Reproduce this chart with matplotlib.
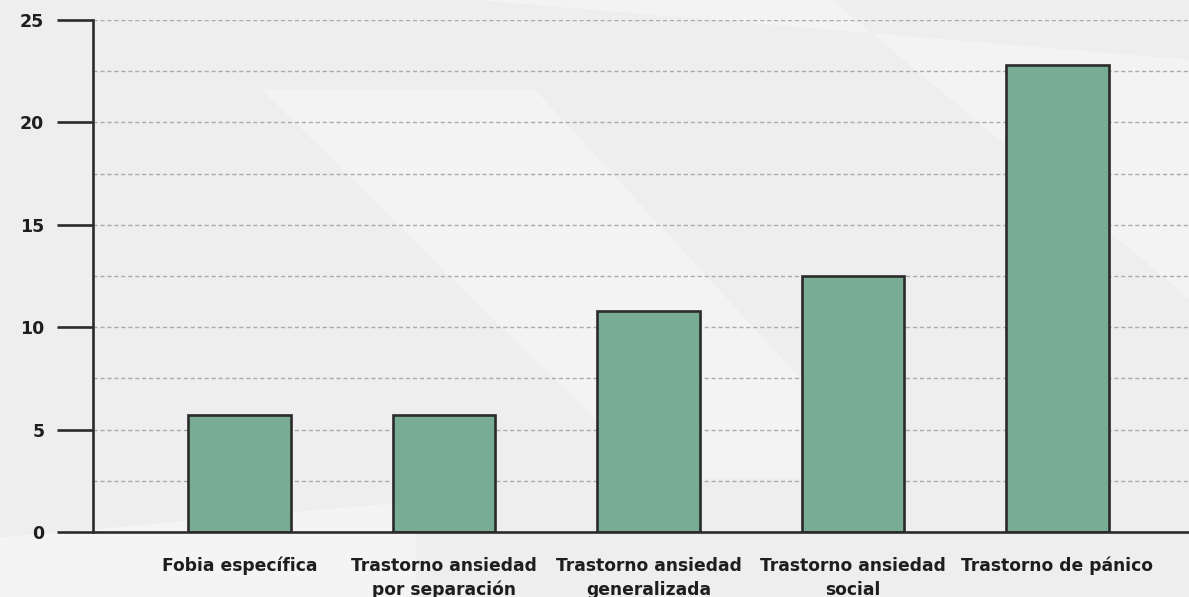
import numpy as np
import matplotlib.pyplot as plt
from matplotlib.patches import Polygon

categories = ["Fobia específica", "Trastorno ansiedad\npor separación",
              "Trastorno ansiedad\ngeneralizada", "Trastorno ansiedad\nsocial",
              "Trastorno de pánico"]
values = [5.7, 5.7, 10.8, 12.5, 22.8]
yticks = [0, 5, 10, 15, 20, 25]

bar_color = "#78ac95"
edge_color = "#2b2b2b"

fig = plt.figure(figsize=(11.89, 5.97), dpi=100)
fig.patch.set_facecolor("#eeeeee")

# faint light shapes in background
bg = fig.add_axes([0, 0, 1, 1], zorder=-1)
bg.set_xlim(0, 1)
bg.set_ylim(0, 1)
bg.axis("off")
bg.add_patch(Polygon([[0.22, 0.85], [0.55, 0.2], [0.75, 0.2], [0.45, 0.85]],
                     closed=True, color="white", alpha=0.3, lw=0))
bg.add_patch(Polygon([[0.4, 1.0], [0.7, 1.0], [1.0, 0.5], [1.0, 0.9]],
                     closed=True, color="white", alpha=0.3, lw=0))
bg.add_patch(Polygon([[0.0, 0.1], [0.35, 0.16], [0.35, 0.0], [0.0, 0.0]],
                     closed=True, color="white", alpha=0.4, lw=0))

ax = fig.add_axes([0.0782, 0.1089, 0.9218, 0.8576])
ax.patch.set_alpha(0)

x = np.arange(len(categories))
ax.bar(x, values, width=0.5, color=bar_color, edgecolor=edge_color,
       linewidth=1.9, zorder=3)

ax.set_xlim(-0.716, 4.643)
ax.set_ylim(0, 25)
ax.set_yticks(yticks)
ax.set_yticklabels([str(t) for t in yticks], fontsize=12.5, fontweight="heavy",
                   color="#1e1e1e")
ax.set_xticks(x)
ax.set_xticklabels(categories, fontsize=12.3, fontweight="heavy", color="#1e1e1e",
                   linespacing=1.4)

# dashed grid every 2.5
for g in np.arange(2.5, 25.1, 2.5):
    ax.axhline(g, color="#ababab", lw=1.0, ls=(0, (3, 2)), zorder=1)

ax.spines["top"].set_visible(False)
ax.spines["right"].set_visible(False)
for s in ["left", "bottom"]:
    ax.spines[s].set_linewidth(1.9)
    ax.spines[s].set_color(edge_color)
    ax.spines[s].set_zorder(4)

ax.tick_params(axis="y", length=26, width=1.9, color=edge_color, pad=9)
ax.tick_params(axis="x", length=0, pad=18)

fig.savefig("out.png", dpi=100, facecolor=fig.get_facecolor())
